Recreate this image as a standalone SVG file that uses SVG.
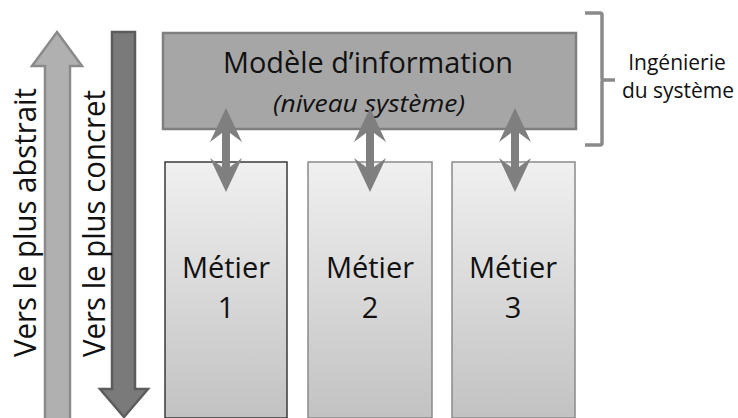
<svg xmlns="http://www.w3.org/2000/svg" width="738" height="418" viewBox="0 0 738 418">
<style>
text{font-family:"Open Sans","Noto Sans","Liberation Sans",sans-serif;fill:#111}
.big{font-size:29px;text-anchor:middle}
.side{font-size:21px;text-anchor:middle}
.vert{font-size:31px}
.dbl{fill:#7f7f7f}
</style>
<defs>
<linearGradient id="boxg" x1="0" y1="0" x2="0" y2="1">
<stop offset="0" stop-color="#f0f0f0"/>
<stop offset="1" stop-color="#c2c2c2"/>
</linearGradient>
</defs>
<rect width="738" height="418" fill="#fff"/>
<g id="arrow-abstrait">
<polygon points="57,32 82,66 70,66 70,420 45,420 45,66 32,66" fill="#b0b0b0" stroke="#8a8a8a" stroke-width="2.5"/>
<text class="vert" transform="translate(36,357) rotate(-90)" textLength="269" lengthAdjust="spacingAndGlyphs">Vers le plus abstrait</text>
</g>
<g id="arrow-concret">
<polygon points="112,32 135,32 135,389 148,389 124,417 100,389 112,389" fill="#7a7a7a" stroke="#5c5c5c" stroke-width="2.5"/>
<text class="vert" transform="translate(105,357) rotate(-90)" textLength="267" lengthAdjust="spacingAndGlyphs">Vers le plus concret</text>
</g>
<g id="modele">
<rect x="163" y="33" width="413" height="96" fill="#a6a6a6" stroke="#7f7f7f" stroke-width="2.5"/>
<text class="big" x="368" y="73" textLength="290" lengthAdjust="spacingAndGlyphs">Modèle d’information</text>
<text x="369" y="112" font-size="23" font-style="italic" text-anchor="middle" textLength="192" lengthAdjust="spacingAndGlyphs">(niveau système)</text>
</g>
<g id="metier1">
<rect x="165" y="162" width="122" height="256" fill="url(#boxg)" stroke="#3a3a3a" stroke-width="1.5"/>
<text class="big" x="226" y="278">Métier</text>
<text class="big" x="226" y="318">1</text>
</g>
<g id="metier2">
<rect x="308" y="162" width="124" height="256" fill="url(#boxg)" stroke="#8a8a8a" stroke-width="1.5"/>
<text class="big" x="370" y="278">Métier</text>
<text class="big" x="370" y="318">2</text>
</g>
<g id="metier3">
<rect x="452" y="162" width="123" height="256" fill="url(#boxg)" stroke="#8a8a8a" stroke-width="1.5"/>
<text class="big" x="513" y="278">Métier</text>
<text class="big" x="513" y="318">3</text>
</g>
<g id="ingenierie">
<path d="M585,13 H600 Q602,13 602,15 V78 Q602,80 604,80 H615 M604,80 Q602,80 602,82 V143 Q602,145 600,145 H585" fill="none" stroke="#8a8a8a" stroke-width="3.5"/>
<text class="side" x="677" y="70">Ingénierie</text>
<text class="side" x="678" y="98">du système</text>
</g>
<g id="connectors">
<polygon class="dbl" points="226,108 242,142 230,133 230,167 242,158 226,192 210,158 222,167 222,133 210,142"/>
<polygon class="dbl" points="370,108 386,142 374,133 374,167 386,158 370,192 354,158 366,167 366,133 354,142"/>
<polygon class="dbl" points="515,108 531,142 519,133 519,167 531,158 515,192 499,158 511,167 511,133 499,142"/>
</g>
</svg>
